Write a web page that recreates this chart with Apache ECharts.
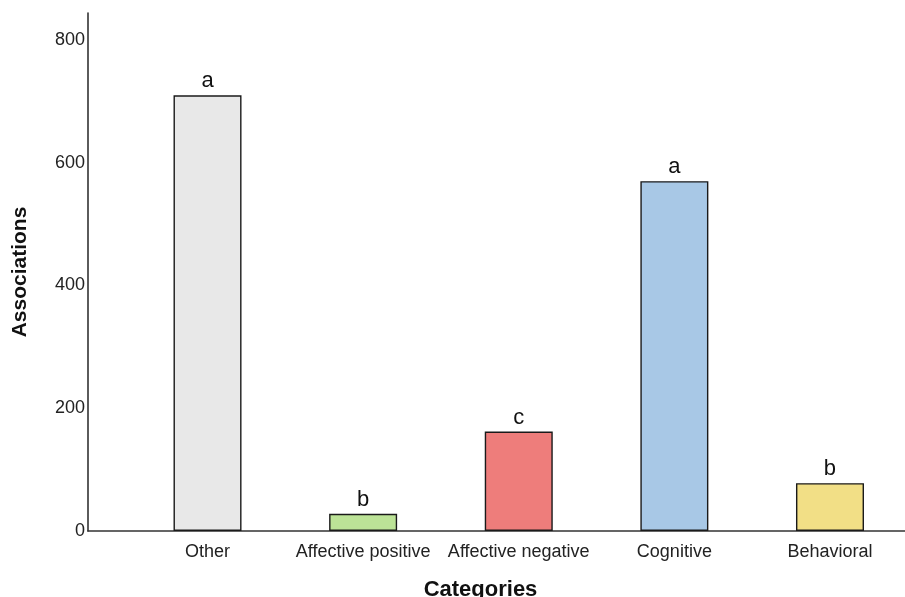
<!DOCTYPE html>
<html><head><meta charset="utf-8">
<script src="https://cdn.jsdelivr.net/npm/echarts@6/dist/echarts.min.js"></script>
<style>html,body{margin:0;padding:0;background:#fff;overflow:hidden}#c{width:905px;height:597px}</style>
</head><body><div id="c"></div>
<script>
const categories = ["Other", "Affective positive", "Affective negative", "Cognitive", "Behavioral"];
const values = [710, 28, 162, 570, 78];
const letters = ["a", "b", "c", "a", "b"];
const colors = ["#e8e8e8", "#bce397", "#ee7d7b", "#a8c8e6", "#f2df86"];
const yTicks = [0, 200, 400, 600, 800];

const chart = echarts.init(document.getElementById('c'), null, {renderer: 'canvas'});
const font = '"Liberation Sans", Arial, Helvetica, sans-serif';
chart.setOption({
  animation: false,
  backgroundColor: '#fff',
  grid: {left: 88, right: 0, top: 13, bottom: 66, containLabel: false, outerBoundsMode: 'none'},
  xAxis: {
    type: 'value', min: 0.232, max: 5.482,
    name: 'Categories', nameLocation: 'middle', nameGap: 48,
    nameTextStyle: {fontFamily: font, fontSize: 22, fontWeight: 'bold', color: '#111', padding: [0, 32, 0, 0]},
    axisLine: {show: true, lineStyle: {color: '#333', width: 1.6}},
    axisTick: {show: false},
    splitLine: {show: false},
    axisLabel: {
      customValues: [1, 2, 3, 4, 5],
      formatter: v => categories[Math.round(v) - 1] || '',
      fontFamily: font, fontSize: 18, color: '#222', margin: 12
    }
  },
  yAxis: {
    type: 'value', min: 0, max: 844,
    name: 'Associations', nameLocation: 'middle', nameGap: 57,
    nameTextStyle: {fontFamily: font, fontSize: 21, fontWeight: 'bold', color: '#111'},
    axisLine: {show: true, lineStyle: {color: '#333', width: 1.6}},
    axisTick: {show: false},
    splitLine: {show: false},
    axisLabel: {customValues: yTicks, fontFamily: font, fontSize: 18, color: '#222', margin: 3}
  },
  series: [{
    type: 'bar',
    barWidth: 68,
    data: values.map((v, i) => ({
      value: [i + 1, v],
      itemStyle: {color: colors[i], borderColor: '#1a1a1a', borderWidth: 1.4}
    })),
    label: {
      show: true, position: 'top', distance: 3,
      formatter: p => letters[p.dataIndex],
      fontFamily: font, fontSize: 22, color: '#111'
    }
  }]
});
</script></body></html>
